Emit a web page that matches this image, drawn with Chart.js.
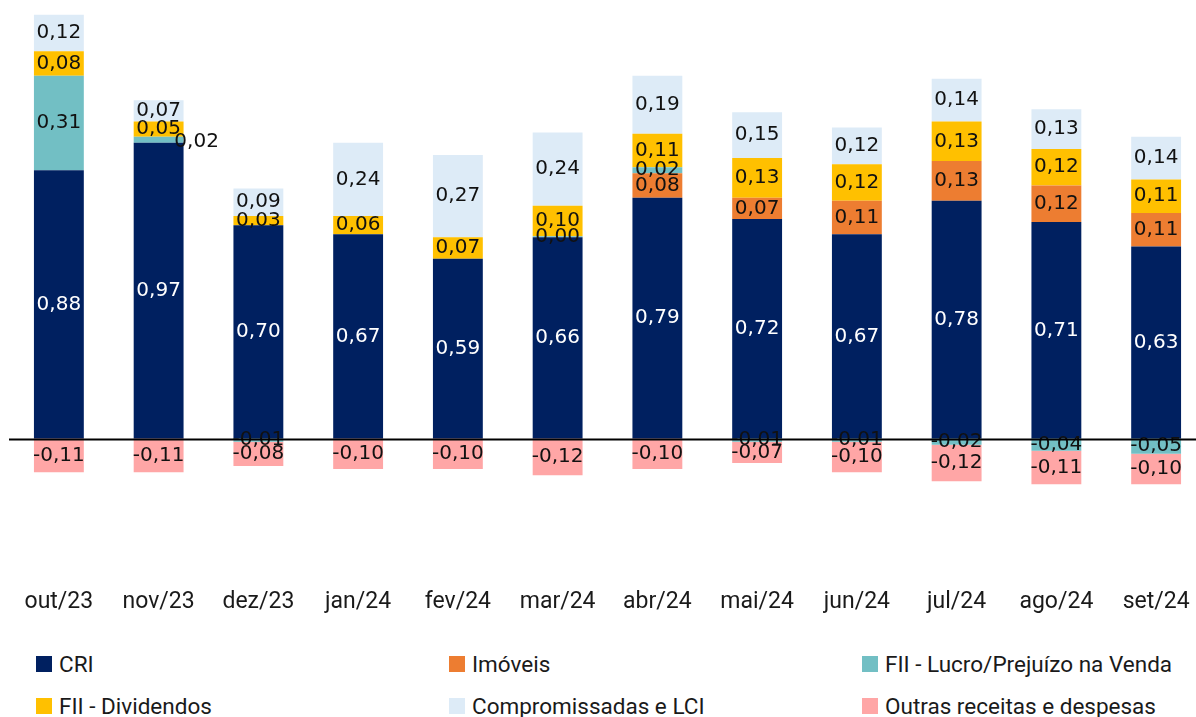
<!DOCTYPE html>
<html>
<head>
<meta charset="utf-8">
<script src="https://cdn.jsdelivr.net/npm/chart.js@4"></script>
<style>
  html, body { margin: 0; padding: 0; background: #fff; overflow: hidden; }
  #wrap { position: relative; width: 1196px; height: 717px; overflow: hidden; }
  #c { position: absolute; left: 0; top: 0; }
  .leg { position: absolute; display: flex; align-items: center; font-family: Roboto, sans-serif; font-size: 22.5px; color: #1a1a1a; white-space: nowrap; }
  .leg span.box { width: 16px; height: 16px; margin-right: 7px; display: inline-block; }
</style>
</head>
<body>
<div id="wrap">
  <canvas id="c" width="1206" height="638" style="width:1206px;height:638px"></canvas>
  <div id="legend"></div>
</div>
<script>
var labels = ['out/23', 'nov/23', 'dez/23', 'jan/24', 'fev/24', 'mar/24', 'abr/24', 'mai/24', 'jun/24', 'jul/24', 'ago/24', 'set/24'];

var cri        = [0.88, 0.97, 0.70, 0.67, 0.59, 0.66, 0.79, 0.72, 0.67, 0.78, 0.71, 0.63];
var imoveis    = [0, 0, 0, 0, 0, 0, 0.08, 0.07, 0.11, 0.13, 0.12, 0.11];
var fiiLucro   = [0.31, 0.02, -0.01, 0, 0, 0.004, 0.02, -0.01, -0.01, -0.02, -0.04, -0.05];
var dividendos = [0.08, 0.05, 0.03, 0.06, 0.07, 0.10, 0.11, 0.13, 0.12, 0.13, 0.12, 0.11];
var compromissadas = [0.12, 0.07, 0.09, 0.24, 0.27, 0.24, 0.19, 0.15, 0.12, 0.14, 0.13, 0.14];
var outras     = [-0.11, -0.11, -0.08, -0.10, -0.10, -0.12, -0.10, -0.07, -0.10, -0.12, -0.11, -0.10];

var series = [
  { label: 'CRI', data: cri, color: '#002060', text: '#ffffff' },
  { label: 'Imóveis', data: imoveis, color: '#ED7D31', text: '#111' },
  { label: 'FII - Lucro/Prejuízo na Venda', data: fiiLucro, color: '#72BFC4', text: '#111' },
  { label: 'FII - Dividendos', data: dividendos, color: '#FFC000', text: '#111' },
  { label: 'Compromissadas e LCI', data: compromissadas, color: '#DDEBF7', text: '#111' },
  { label: 'Outras receitas e despesas', data: outras, color: '#FFA6A6', text: '#111' }
];

// legend order in the picture (3 columns x 2 rows)
var legendOrder = [0, 1, 2, 3, 4, 5];
var legCols = [36, 449, 862];
var legRows = [664, 706];

function fmt(v) {
  return v.toFixed(2).replace('.', ',');
}

// labels drawn on each segment
var segLabels = {
  id: 'segLabels',
  afterDatasetsDraw: function(chart) {
    var ctx = chart.ctx;
    ctx.save();
    ctx.font = '20px "DejaVu Sans"';
    ctx.textAlign = 'center';
    ctx.textBaseline = 'middle';
    chart.data.datasets.forEach(function(ds, di) {
      var meta = chart.getDatasetMeta(di);
      meta.data.forEach(function(bar, i) {
        var v = ds.data[i];
        if (v === 0) return;
        var x = bar.x;
        var y = (bar.y + bar.base) / 2;
        // the small teal piece of nov/23 has its label pushed outside
        if (di === 2 && i === 1) { x += 38; y += 2; }
        ctx.fillStyle = series[di].text;
        ctx.fillText(fmt(v), x, y);
      });
    });
    ctx.restore();
  }
};

var zeroLine = {
  id: 'zeroLine',
  afterDatasetsDraw: function(chart) {
    var y = Math.round(chart.scales.y.getPixelForValue(0)) + 0.5;
    var ctx = chart.ctx;
    ctx.save();
    ctx.strokeStyle = '#000';
    ctx.lineWidth = 2;
    ctx.beginPath();
    ctx.moveTo(chart.chartArea.left, y);
    ctx.lineTo(chart.chartArea.right, y);
    ctx.stroke();
    ctx.restore();
  }
};

var ctx = document.getElementById('c').getContext('2d');
var chart = new Chart(ctx, {
  type: 'bar',
  data: {
    labels: labels,
    datasets: series.map(function(s) {
      return {
        label: s.label,
        data: s.data,
        backgroundColor: s.color,
        borderWidth: 0,
        barPercentage: 0.5,
        categoryPercentage: 1.0
      };
    })
  },
  options: {
    responsive: false,
    animation: false,
    layout: { padding: { left: 9, right: 0, top: 5, bottom: 14 } },
    plugins: {
      legend: { display: false },
      tooltip: { enabled: false }
    },
    scales: {
      x: {
        stacked: true,
        grid: { display: false, drawTicks: false },
        border: { display: false },
        ticks: {
          padding: 8,
          color: '#1a1a1a',
          font: { family: 'Roboto', size: 23 },
          maxRotation: 0,
          autoSkip: false
        }
      },
      y: {
        stacked: true,
        display: false,
        min: -0.465,
        max: 1.422
      }
    }
  },
  plugins: [segLabels, zeroLine]
});

var legEl = document.getElementById('legend');
legendOrder.forEach(function(si, k) {
  var s = series[si];
  var d = document.createElement('div');
  d.className = 'leg';
  d.style.left = legCols[k % 3] + 'px';
  d.style.top = (legRows[Math.floor(k / 3)] - 14) + 'px';
  d.style.height = '28px';
  d.innerHTML = '<span class="box" style="background:' + s.color + '"></span>' + s.label;
  legEl.appendChild(d);
});
</script>
</body>
</html>
